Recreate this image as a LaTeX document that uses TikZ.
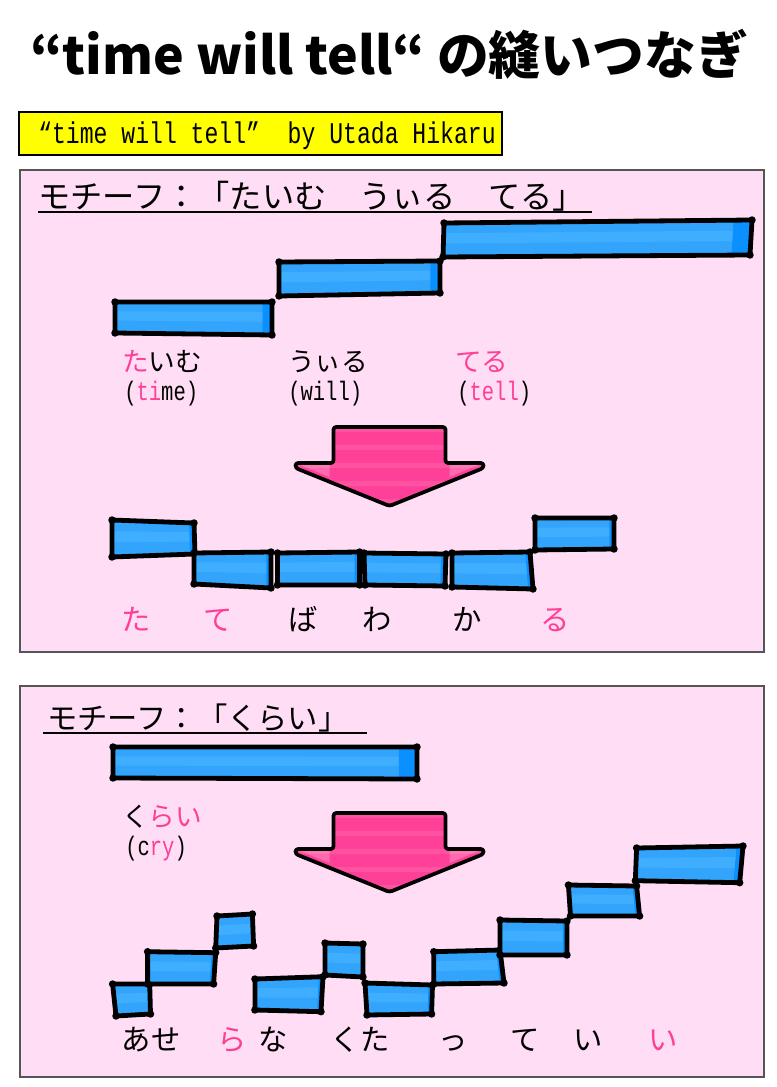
\documentclass[tikz,border=0pt]{standalone}
\usepackage{fontspec}
\usepackage{graphicx}
\setmainfont{Noto Sans CJK JP}
\newfontfamily\jp{Noto Sans CJK JP}
\newfontfamily\lat[FakeStretch=0.77]{Liberation Mono}
\usetikzlibrary{calc}
\definecolor{bgpink}{RGB}{255,221,244}
\definecolor{panelgray}{RGB}{85,85,85}
\definecolor{barblue}{RGB}{50,164,252}
\definecolor{barlight}{RGB}{64,174,255}
\definecolor{bardark}{RGB}{10,145,255}
\definecolor{tpink}{RGB}{255,62,150}
\definecolor{apink}{RGB}{255,64,152}
\definecolor{ybg}{RGB}{255,255,0}
\newcommand\fs[1]{\fontsize{#1}{#1}\selectfont}
\newcommand\bluebar[8]{%
  \fill[barblue] (#1,#2) -- (#3,#4) -- (#5,#6) -- (#7,#8) -- cycle;
  \fill[barlight] ($(#1,#2)!0.3!(#7,#8)$) -- ($(#3,#4)!0.3!(#5,#6)$) -- ($(#3,#4)!0.6!(#5,#6)$) -- ($(#1,#2)!0.6!(#7,#8)$) -- cycle;
  \fill[bardark] ($(#3,#4)!0.06!(#1,#2)$) -- (#3,#4) -- (#5,#6) -- ($(#5,#6)!0.06!(#7,#8)$) -- cycle;
  \draw[barline] (#1,#2) -- (#3,#4) -- (#5,#6) -- (#7,#8) -- cycle;
  \fill (#1,#2) circle[radius=2.8pt] (#3,#4) circle[radius=2.8pt] (#5,#6) circle[radius=2.8pt] (#7,#8) circle[radius=2.8pt];
}
\newcommand\arrowshape[2]{(#1-56,#2) -- (#1+56,#2) -- (#1+56,#2+36) -- (#1+94,#2+36) -- (#1+94,#2+41) -- (#1,#2+79) -- (#1-94,#2+41) -- (#1-94,#2+36) -- (#1-56,#2+36) -- cycle}
\newcommand\pinkarrow[2]{%
  \begin{scope}
    \clip[rounded corners=2pt] \arrowshape{#1}{#2};
    \fill[apink] (#1-100,#2-2) rectangle (#1+100,#2+82);
    \foreach \k in {0,2,4,6,8} \fill[white,opacity=0.10] (#1-100,#2+\k*9) rectangle (#1+100,#2+\k*9+5);
    \fill[white,opacity=0.22] (#1-94,#2+36) -- (#1-60,#2+36) -- (#1-60,#2+50) -- cycle;
    \fill[white,opacity=0.22] (#1+94,#2+36) -- (#1+60,#2+36) -- (#1+60,#2+50) -- cycle;
  \end{scope}
  \draw[arrowline] \arrowshape{#1}{#2};
}
\begin{document}
\begin{tikzpicture}[x=0.75pt,y=-0.75pt,
  panel/.style={fill=bgpink,draw=panelgray,line width=1.3pt},
  barline/.style={line width=3.6pt,line join=round},
  arrowline/.style={line width=2.8pt,line join=round,rounded corners=2pt},
  uline/.style={line width=1.4pt},
  lbl/.style={inner sep=0pt,font=\jp},
  latl/.style={inner sep=0pt,font=\lat\fs{20pt}}]
\useasboundingbox (0,0) rectangle (776,1087);
\fill[white] (0,0) rectangle (776,1087);

% title
\node[anchor=base west,inner sep=0pt] (title) at (30,75)
  {\resizebox{538pt}{!}{\jp\bfseries “time will tell“ の縫いつなぎ}};

% yellow box
\draw[fill=ybg,line width=1.6pt] (19,112) rectangle (502,155);
\node[anchor=base west,inner sep=0pt] (credit) at (38,144)
  {\lat\fs{22.5pt}“time will tell”\ \ by Utada Hikaru};

% ---------- panel 1
\draw[panel] (20,170) rectangle (764,652);
\node[anchor=base west,inner sep=0pt] (h1) at (38,209)
  {\resizebox{410pt}{!}{\jp モチーフ：「たいむ　うぃる　てる」}};
\draw[uline] (38,212) -- (592,212);

\bluebar{115}{302}{272}{302}{272}{335}{115}{333}
\bluebar{279}{262}{440}{261}{440}{293}{279}{296}
\bluebar{444}{223}{752}{220}{750}{255}{443}{257}

\node[lbl,anchor=base west] (w1) at (122,371) {\fs{20pt}\textcolor{tpink}{た}いむ};
\node[latl,anchor=base west] (e1) at (124,400) {(\textcolor{tpink}{ti}me)};
\node[lbl,anchor=base west] (w2) at (288,371) {\fs{20pt}うぃる};
\node[latl,anchor=base west] (e2) at (288,400) {(will)};
\node[lbl,anchor=base west] (w3) at (455,371) {\fs{20pt}\textcolor{tpink}{てる}};
\node[latl,anchor=base west] (e3) at (457,400) {(\textcolor{tpink}{tell})};

\pinkarrow{389.5}{427}

\bluebar{112}{520}{194}{523}{195}{554}{112}{557}
\bluebar{194}{553}{271}{552}{271}{588}{194}{584}
\bluebar{277.5}{553}{359.6}{552}{359.6}{585}{277.5}{585}
\bluebar{364}{553}{446}{554}{445}{586}{365}{585}
\bluebar{452}{553}{530}{552}{533}{589}{452}{587}
\bluebar{535}{518}{614}{518}{614}{549}{535}{550}

\node[lbl,anchor=base] (s1) at (136,630) {\fs{22pt}\textcolor{tpink}{た}};
\node[lbl,anchor=base] (s2) at (218,630) {\fs{22pt}\textcolor{tpink}{て}};
\node[lbl,anchor=base] (s3) at (303,630) {\fs{22pt}ば};
\node[lbl,anchor=base] (s4) at (377,630) {\fs{22pt}わ};
\node[lbl,anchor=base] (s5) at (467,630) {\fs{22pt}か};
\node[lbl,anchor=base] (s6) at (555,630) {\fs{22pt}\textcolor{tpink}{る}};

% ---------- panel 2
\draw[panel] (20,686) rectangle (764,1077);
\node[anchor=base west,inner sep=0pt] (h2) at (47,729)
  {\resizebox{226pt}{!}{\jp モチーフ：「くらい」}};
\draw[uline] (43,733) -- (367,733);

\bluebar{113}{747}{417}{747}{417}{779}{113}{778}

\node[lbl,anchor=base west] (w4) at (122,826) {\fs{20pt}く\textcolor{tpink}{らい}};
\node[latl,anchor=base west] (e4) at (125,855) {(c\textcolor{tpink}{ry})};

\pinkarrow{389.5}{813}

\bluebar{112.6}{984}{149.7}{984}{150.5}{1014}{116}{1016}
\bluebar{147.6}{951.7}{215.7}{952.7}{213.6}{984}{147.6}{984}
\bluebar{217}{916}{252.4}{914}{253.6}{946}{215.7}{948}
\bluebar{254.9}{979}{323}{976.7}{321}{1011.7}{254.9}{1010}
\bluebar{325}{943}{363}{944}{363}{977}{325}{975}
\bluebar{365}{983}{432.5}{985}{431.6}{1014}{367}{1015}
\bluebar{433.8}{951.7}{500}{950}{504}{983}{433.8}{984}
\bluebar{500}{920}{567}{921}{567}{955}{500}{955}
\bluebar{568.4}{885}{636.6}{886}{639.6}{916}{570.5}{916}
\bluebar{636.6}{848}{743}{846}{739.7}{882.7}{635.3}{880.7}

\node[lbl,anchor=base] (t1) at (151,1050) {\fs{22pt}あせ};
\node[lbl,anchor=base] (t2) at (232,1050) {\fs{22pt}\textcolor{tpink}{ら}};
\node[lbl,anchor=base] (t3) at (273,1050) {\fs{22pt}な};
\node[lbl,anchor=base] (t4) at (360,1050) {\fs{22pt}くた};
\node[lbl,anchor=base] (t5) at (453,1050) {\fs{22pt}っ};
\node[lbl,anchor=base] (t6) at (525,1050) {\fs{22pt}て};
\node[lbl,anchor=base] (t7) at (588,1050) {\fs{22pt}い};
\node[lbl,anchor=base] (t8) at (663,1050) {\fs{22pt}\textcolor{tpink}{い}};
\end{tikzpicture}
\end{document}
